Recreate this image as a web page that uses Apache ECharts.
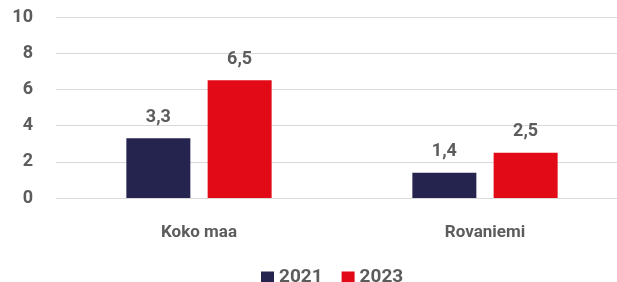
<!DOCTYPE html>
<html>
<head>
<meta charset="utf-8">
<script src="https://cdn.jsdelivr.net/npm/echarts@6/dist/echarts.min.js"></script>
<style>
  html, body { margin: 0; padding: 0; background: #fff; overflow: hidden; }
  #chart { width: 628px; height: 282px; }
</style>
</head>
<body>
<div id="chart"></div>
<script>
// data
var categories = ['Koko maa', 'Rovaniemi']
var years = ['2021', '2023']
var values2021 = [3.3, 1.4]
var values2023 = [6.5, 2.5]

var textGray = '#5c5c5c'
var font = 'Roboto'

function fmt (v) {
  return String(v).replace('.', ',')
}

function barSeries (name, data, color) {
  return {
    name: name,
    type: 'bar',
    data: data,
    barWidth: 64,
    barGap: '27%',
    itemStyle: { color: color },
    label: {
      show: true,
      position: 'top',
      distance: 12,
      color: textGray,
      fontFamily: font,
      fontWeight: 'bold',
      fontSize: 18,
      formatter: function (p) { return fmt(p.value) }
    }
  }
}

// the plot runs past the right edge of the window, like in the picture
var chart = echarts.init(document.getElementById('chart'))
chart.setOption({
  animation: false,
  grid: {
    left: 56,
    right: 0,
    top: 17,
    bottom: 84
  },
  legend: {
    data: years,
    top: 263,
    left: 256,
    itemWidth: 13,
    itemHeight: 12,
    itemGap: 19,
    icon: 'rect',
    textStyle: {
      color: textGray,
      fontFamily: font,
      fontWeight: 'bold',
      fontSize: 19
    }
  },
  xAxis: {
    type: 'category',
    data: categories,
    axisLine: { show: false },
    axisTick: { show: false },
    axisLabel: {
      margin: 26,
      color: textGray,
      fontFamily: font,
      fontWeight: 'bold',
      fontSize: 17
    }
  },
  yAxis: {
    type: 'value',
    min: 0,
    max: 10,
    interval: 2,
    axisLine: { show: false },
    axisTick: { show: false },
    axisLabel: {
      margin: 23,
      color: textGray,
      fontFamily: font,
      fontWeight: 'bold',
      fontSize: 18
    },
    splitLine: { lineStyle: { color: '#d9d9d9', width: 1 } }
  },
  series: [
    barSeries(years[0], values2021, '#24244f'),
    barSeries(years[1], values2023, '#e30a17')
  ]
})
</script>
</body>
</html>
